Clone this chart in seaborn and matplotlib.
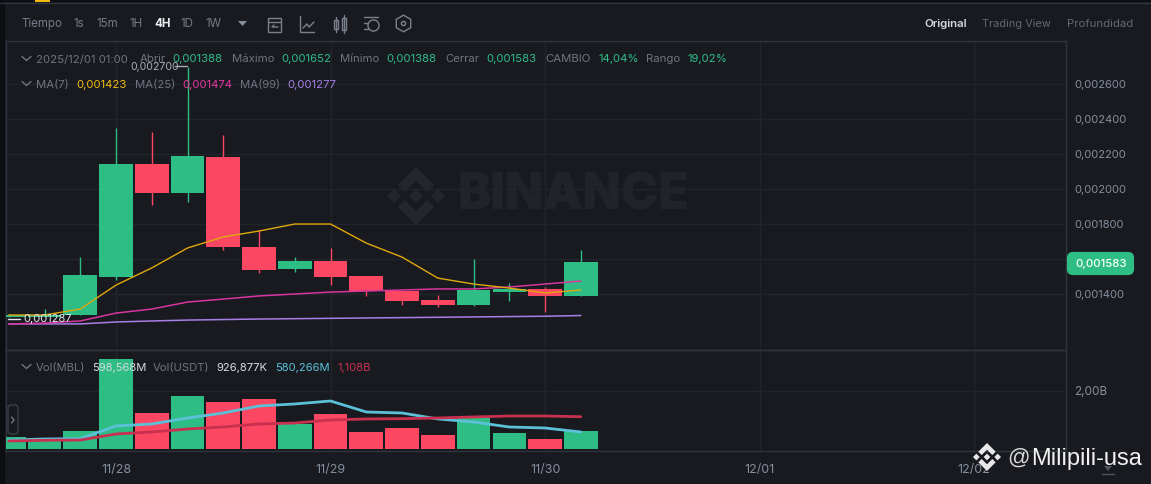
import numpy as np
import pandas as pd
import seaborn as sns
import matplotlib.pyplot as plt
from matplotlib.patches import FancyBboxPatch, Polygon, Rectangle

# candle index, 0 is 11/28 00:00, 6 candles a day
idx = [-3, -2, -1, 0, 1, 2, 3, 4, 5, 6, 7, 8, 9, 10, 11, 12, 13]
opens = [0.00127, 0.00127, 0.00128, 0.001497, 0.002143, 0.001977, 0.002183, 0.001669, 0.001543, 0.001589,
         0.001503, 0.001417, 0.001366, 0.001337, 0.001411, 0.001429, 0.001388]
closes = [0.00128, 0.00128, 0.001509, 0.002143, 0.001977, 0.002189, 0.001669, 0.001537, 0.001589, 0.001497,
          0.001417, 0.00136, 0.001337, 0.001423, 0.001429, 0.001388, 0.001583]
highs = [0.001286, 0.001314, 0.001611, 0.002349, 0.002326, 0.0027, 0.002309, 0.001766, 0.001611, 0.001663,
         0.001503, 0.001423, 0.001394, 0.0016, 0.001463, 0.00144, 0.001652]
lows = [0.00127, 0.00127, 0.00128, 0.00148, 0.001909, 0.001926, 0.001651, 0.00152, 0.001526, 0.001451,
        0.001389, 0.001337, 0.001326, 0.001331, 0.00136, 0.001297, 0.001388]

ma7 = [0.00128, 0.00128, 0.001314, 0.001451, 0.001549, 0.001663, 0.001726, 0.00176, 0.0018, 0.0018,
       0.001691, 0.001611, 0.001491, 0.001457, 0.001434, 0.001406, 0.001423]
ma25 = [0.001229, 0.001234, 0.001246, 0.001291, 0.001314, 0.001354, 0.001371, 0.001389, 0.0014, 0.001411,
        0.001417, 0.001423, 0.001429, 0.001429, 0.00144, 0.001457, 0.001474]
ma99 = [0.001229, 0.001229, 0.001229, 0.00124, 0.001246, 0.001251, 0.001254, 0.001257, 0.001259, 0.001261,
        0.001263, 0.001265, 0.001267, 0.001269, 0.001271, 0.001273, 0.001277]

volumes = [0.416, 0.371, 0.613, 3.11, 1.237, 1.827, 1.619, 1.723, 0.856, 1.203,
           0.579, 0.717, 0.475, 1.064, 0.544, 0.336, 0.5986]
vol_ma1 = [0.30, 0.336, 0.347, 0.787, 0.856, 1.064, 1.237, 1.48, 1.55, 1.653,
           1.272, 1.237, 1.03, 0.925, 0.752, 0.717, 0.58]
vol_ma2 = [0.267, 0.29, 0.30, 0.51, 0.579, 0.683, 0.752, 0.856, 0.891, 0.995,
           1.03, 1.04, 1.064, 1.10, 1.133, 1.133, 1.108]

date_ticks = [0, 6, 12, 18, 24]
date_labels = ['11/28', '11/29', '11/30', '12/01', '12/02']
price_ticks = [0.0014, 0.0016, 0.0018, 0.0020, 0.0022, 0.0024, 0.0026]
price_labels = ['0,001400', '', '0,001800', '0,002000', '0,002200', '0,002400', '0,002600']

BG = '#181a20'
GRID = '#1f252a'
BORDER = '#2f353d'
MUTED = '#6e7480'
TICK = '#848e9c'
GREEN = '#2ebd85'
RED = '#fb4761'

sns.set_theme(style='dark', rc={'figure.facecolor': BG, 'axes.facecolor': 'none', 'savefig.facecolor': BG})
plt.rcParams['font.family'] = ['Inter', 'DejaVu Sans']

W, H = 1151, 484
fig = plt.figure(figsize=(W / 100, H / 100), dpi=100)


def pane(x0, y0, x1, y1):
    return fig.add_axes([x0 / W, 1 - y1 / H, (x1 - x0) / W, (y1 - y0) / H])


ax = pane(6, 41, 1066, 350)
ax_vol = pane(6, 350, 1066, 451)
over = fig.add_axes([0, 0, 1, 1], zorder=10)
over.set_xlim(0, W)
over.set_ylim(H, 0)
over.axis('off')
under = fig.add_axes([0, 0, 1, 1], zorder=-1)
under.set_xlim(0, W)
under.set_ylim(H, 0)
under.axis('off')

xlim = (-3.077, 26.57)
colors = [GREEN if c >= o else RED for o, c in zip(opens, closes)]

# candles
ax.vlines(idx, lows, highs, colors=colors, linewidth=1, zorder=2)
ax.bar(idx, np.abs(np.array(closes) - np.array(opens)), bottom=np.minimum(opens, closes),
       width=0.94, color=colors, linewidth=0, zorder=3)
sns.lineplot(x=idx, y=ma99, color='#a77fe6', linewidth=1.1, ax=ax, zorder=4)
sns.lineplot(x=idx, y=ma25, color='#d8369f', linewidth=1.1, ax=ax, zorder=4)
sns.lineplot(x=idx, y=ma7, color='#e0a80c', linewidth=1.0, ax=ax, zorder=4)
ax.set_xlim(*xlim)
ax.set_ylim(0.00108, 0.002846)
ax.set_xticks(date_ticks)
ax.set_xticklabels([])
ax.yaxis.tick_right()
ax.set_yticks(price_ticks)
ax.set_yticklabels(price_labels)
ax.set_axisbelow(True)

# volume
df = pd.DataFrame({'idx': idx, 'vol': volumes, 'up': ['up' if c == GREEN else 'down' for c in colors]})
sns.barplot(data=df, x='idx', y='vol', hue='up', palette={'up': GREEN, 'down': RED}, native_scale=True,
            dodge=False, width=0.94, legend=False, linewidth=0, saturation=1, ax=ax_vol, zorder=3)
sns.lineplot(x=idx, y=vol_ma1, color='#5bc0d8', linewidth=2, ax=ax_vol, zorder=4)
sns.lineplot(x=idx, y=vol_ma2, color='#c9304f', linewidth=2, ax=ax_vol, zorder=4)
ax_vol.set_xlim(*xlim)
ax_vol.set_ylim(-0.08, 3.42)
ax_vol.set_xticks(date_ticks)
ax_vol.set_xticklabels(date_labels)
ax_vol.yaxis.tick_right()
ax_vol.set_yticks([2.0])
ax_vol.set_yticklabels(['2,00B'])
ax_vol.set_xlabel('')
ax_vol.set_ylabel('')
ax_vol.set_axisbelow(True)

for a in (ax, ax_vol):
    a.grid(True, color=GRID, linewidth=1)
    a.tick_params(axis='y', length=0, pad=6, labelsize=8.0, labelcolor=TICK)
    a.tick_params(axis='x', length=0, labelsize=9, labelcolor=TICK)
    for s in a.spines.values():
        s.set_color(BORDER)
        s.set_linewidth(1)
ax_vol.tick_params(axis='x', pad=9)
ax_vol.tick_params(axis='y', labelsize=8.4)


def logo(target, cx, cy, r, color, z):
    # binance mark, unit shape scaled to r
    def diamond(dx, dy, s):
        return [(dx, dy - s), (dx + s, dy), (dx, dy + s), (dx - s, dy)]
    chev = [(0, -1), (0.62, -0.38), (0.38, -0.14), (0, -0.52), (-0.38, -0.14), (-0.62, -0.38)]
    shapes = [diamond(0, 0, 0.24), diamond(-0.76, 0, 0.24), diamond(0.76, 0, 0.24), chev,
              [(x, -y) for x, y in chev]]
    for sh in shapes:
        target.add_patch(Polygon([(cx + x * r, cy + y * r) for x, y in sh], closed=True,
                                 facecolor=color, edgecolor='none', zorder=z))


# watermark
logo(under, 416, 196, 29, '#24262c', 1)
under.text(458, 196, 'BINANCE', fontsize=35.8, fontweight='black', color='#212329', va='center', ha='left',
           family=['Inter', 'DejaVu Sans'])


def label(x, y, s, color=MUTED, size=8.2, weight='normal', ha='left'):
    over.text(x, y + 1, s, color=color, fontsize=size, fontweight=weight, va='center', ha=ha)


# window chrome
over.add_patch(Rectangle((0, 0), 5, H, facecolor='#0c0e12', edgecolor='none'))
over.add_patch(Rectangle((0, 0), W, 1.5, facecolor='#0c0e12', edgecolor='none'))
over.plot([0, W], [3, 3], color=BORDER, lw=1)
over.add_patch(Rectangle((35, 0), 15, 2, facecolor='#f0b90b', edgecolor='none'))

# toolbar
for x, s in [(22, 'Tiempo'), (73, '1s'), (96, '15m'), (129, '1H'), (180, '1D'), (205, '1W')]:
    label(x, 23, s, color='#747b87', size=8.3)
label(154, 23, '4H', color='#eaecef', size=8.3, weight='bold')
over.add_patch(Polygon([(238, 21), (247, 21), (242.5, 26)], closed=True, facecolor='#848e9c', edgecolor='none'))
label(924, 23, 'Original', color='#d5d8dc', size=8.2, weight='semibold')
label(982, 23, 'Trading View', color='#626873', size=7.9)
label(1067, 23, 'Profundidad', color='#626873', size=8.2)

# toolbar icons
ic = '#7b818c'
over.add_patch(Rectangle((268, 18), 13, 14, fill=False, edgecolor=ic, lw=1))
over.plot([268, 281], [22, 22], color=ic, lw=1)
over.plot([278, 272, 274], [27, 27, 25], color=ic, lw=1)
over.plot([300, 300, 314], [16, 32, 32], color=ic, lw=1)
over.plot([303, 307, 309, 314], [28, 24, 27, 22], color=ic, lw=1)
over.add_patch(Rectangle((334, 20), 4, 9, fill=False, edgecolor=ic, lw=1))
over.add_patch(Rectangle((342, 18), 4, 12, fill=False, edgecolor=ic, lw=1))
over.plot([344, 344], [15, 33], color=ic, lw=1)
over.plot([336, 336], [17, 32], color=ic, lw=1)
over.plot([364, 378], [17, 17], color=ic, lw=1)
over.plot([364, 368], [23, 23], color=ic, lw=1)
over.plot([364, 368], [29, 29], color=ic, lw=1)
over.plot([373], [25], marker='o', ms=8, mfc='none', mec=ic, mew=1)
over.plot([403], [23], marker='h', ms=12, mfc='none', mec=ic, mew=1)
over.plot([403], [23], marker='o', ms=3, mfc='none', mec=ic, mew=1)

# header rows
for x, s, c in [(36, '2025/12/01 01:00', MUTED), (140, 'Abrir', MUTED), (172, '0,001388', GREEN),
                (232, 'Máximo', MUTED), (281, '0,001652', GREEN), (340, 'Mínimo', MUTED),
                (386, '0,001388', GREEN), (445, 'Cerrar', MUTED), (486, '0,001583', GREEN),
                (545, 'CAMBIO', MUTED), (599, '14,04%', GREEN), (646, 'Rango', MUTED), (688, '19,02%', GREEN)]:
    label(x, 58.5, s, color=c)
for x, s, c in [(36, 'MA(7)', MUTED), (76, '0,001423', '#f0b90b'), (135, 'MA(25)', MUTED),
                (182, '0,001474', '#e8369f'), (240, 'MA(99)', MUTED), (287, '0,001277', '#a77fe6')]:
    label(x, 84, s, color=c)
for x, s, c in [(36, 'Vol(MBL)', MUTED), (92, '598,568M', '#d8dade'), (153, 'Vol(USDT)', MUTED),
                (216, '926,877K', '#d8dade'), (275, '580,266M', '#5bc0d8'), (338, '1,108B', '#c9304f')]:
    label(x, 367, s, color=c, size=8.1)
for y in (59, 84, 367):
    over.plot([22, 26.5, 31], [y - 2.5, y + 1.5, y - 2.5], color=MUTED, lw=1)

# extreme markers
label(130, 65.5, '0,002700', color='#a9aeb6', size=7.6)
over.plot([175, 187], [66, 66], color='#a9aeb6', lw=1)
label(23, 318, '0,001287', color='#e6e8ea', size=8)
over.plot([8, 20], [319, 319], color='#e6e8ea', lw=1)

# last price tag
over.add_patch(FancyBboxPatch((1069, 254), 63, 19, boxstyle='round,pad=0,rounding_size=4', mutation_aspect=1,
                              facecolor=GREEN, edgecolor=GREEN, lw=3))
label(1101, 263, '0,001583', color='white', size=8.2, weight='medium', ha='center')

# side button
over.add_patch(FancyBboxPatch((8, 405), 10, 29, boxstyle='round,pad=0,rounding_size=3',
                              facecolor=BG, edgecolor='#3a4049', lw=1))
over.plot([11.5, 14, 11.5], [417, 420, 423], color=MUTED, lw=1)

# download icon and corner watermark
over.plot([1102, 1114], [474, 474], color='#4e5560', lw=1)
over.add_patch(Polygon([(1104, 466), (1112, 466), (1108, 471)], closed=True, facecolor='#4e5560', edgecolor='none'))
logo(over, 987, 457, 14, '#e8e8e8', 12)
over.text(1007, 458, '@', color='#d8d8d8', fontsize=16, va='center', ha='left', family='Liberation Sans', zorder=12)
over.text(1031, 459, 'Milipili-usa', color='#f2f2f2', fontsize=17, va='center', ha='left', family='Liberation Sans', zorder=12)

fig.savefig('out.png', dpi=100, facecolor=BG)
